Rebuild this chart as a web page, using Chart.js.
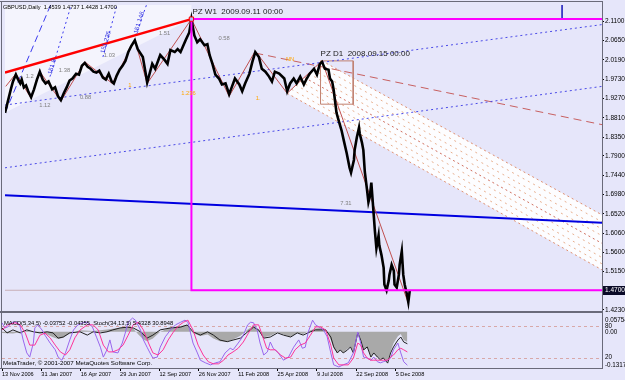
<!DOCTYPE html>
<html>
<head>
<meta charset="utf-8">
<script src="https://cdn.jsdelivr.net/npm/chart.js@4.4.0/dist/chart.umd.min.js"></script>
<style>
  html, body { margin: 0; padding: 0; background: #E6E6FA; }
  #wrap { position: relative; width: 625px; height: 380px; overflow: hidden; }
  canvas { position: absolute; left: 0; }
</style>
</head>
<body>
<div id="wrap">
  <canvas id="price" width="625" height="316" style="top:0"></canvas>
  <canvas id="osc" width="625" height="64" style="top:316px"></canvas>
</div>
<script>
var FONT = 'Liberation Sans, Arial, sans-serif';
var BG = '#E6E6FA';
var FRAME = '#6A6A7A';

// x is the bar number counted from 13 Nov 2006
var dateTickBars = [0, 54, 108, 162, 216, 270, 324, 378, 432, 486, 540];
var dateLabels = ['13 Nov 2006', '31 Jan 2007', '16 Apr 2007', '29 Jun 2007', '12 Sep 2007',
                  '26 Nov 2007', '11 Feb 2008', '25 Apr 2008', '9 Jul 2008', '22 Sep 2008', '5 Dec 2008'];
var priceTicks = [2.1100, 2.0650, 2.0190, 1.9730, 1.9270, 1.8810, 1.8350, 1.7900,
                  1.7440, 1.6980, 1.6520, 1.6060, 1.5600, 1.5150, 1.4230];
var lastPrice = 1.4700;

// GBPUSD daily closes (sampled)
var priceBars = [0,4,8,11,15,18,21,23,26,29,32,36,40,44,48,52,56,60,65,69,73,77,81,85,89,93,98,102,106,110,
  114,118,122,126,130,135,139,143,147,150,154,158,162,166,170,174,179,183,190,194,196,203,207,214,220,224,228,
  234,238,242,249,254,257,261,265,269,275,279,282,286,290,295,299,304,309,313,317,323,327,331,337,341,345,350,
  354,359,364,368,372,378,385,389,393,398,402,407,412,416,420,426,430,434,437,441,446,448,451,453,455,457,460,
  462,464,467,471,475,477,481,482,485,488,489,492,494,496,499,501,503,505,508,510,512,515,516,519,522,523,526,
  529,530,533,536,537,540,543,544,547,549,551,554,556,558];
var priceClose = [1.8927,1.9207,1.9487,1.9674,1.9838,1.9721,1.9628,1.9721,1.9534,1.9581,1.9441,1.9300,1.9487,
  1.9721,1.9908,1.9721,1.9628,1.9674,1.9487,1.9534,1.9324,1.9230,1.9394,1.9534,1.9698,1.9745,1.9861,1.9838,
  2.0048,2.0118,2.0025,1.9978,1.9908,1.9885,1.9931,1.9768,1.9721,1.9861,1.9674,1.9628,1.9815,1.9955,2.0048,
  2.0165,2.0376,2.0516,2.0656,2.0446,2.0259,1.9861,1.9651,2.0095,1.9978,2.0305,2.0189,2.0095,2.0422,2.0376,
  2.0446,2.0376,2.0656,2.0843,2.1161,2.0773,2.0609,2.0679,2.0539,2.0563,2.0305,2.0095,1.9838,1.9745,1.9604,
  1.9628,1.9371,1.9558,1.9745,1.9604,1.9441,1.9628,1.9861,2.0142,2.0376,2.0259,1.9978,1.9908,1.9791,1.9674,
  1.9908,1.9861,1.9745,1.9441,1.9628,1.9745,1.9628,1.9791,1.9604,1.9745,1.9861,1.9978,1.9838,2.0095,2.0142,
  1.9978,1.9955,1.9745,1.9674,1.9487,1.9207,1.8927,1.8740,1.8623,1.8506,1.8272,1.7969,1.7618,1.7501,1.7805,
  1.8039,1.8342,1.8576,1.8436,1.8225,1.8039,1.7524,1.7104,1.6800,1.6940,1.7267,1.6566,1.6099,1.5702,1.6005,
  1.5772,1.5538,1.5234,1.4837,1.4697,1.4930,1.5071,1.5304,1.5164,1.4837,1.4767,1.5071,1.5304,1.5631,1.5071,
  1.4837,1.4603,1.4416,1.4700];

// zigzag swing points
var zigBars = [1, 15, 36, 48, 77, 110, 148, 179, 196, 257, 309, 345, 389, 437, 556];
var zigPrices = [1.9558, 1.9861, 1.9277, 1.9908, 1.9207, 2.0142, 1.9628, 2.0656, 1.9628, 2.1161,
                 1.9324, 2.0399, 1.9394, 2.0165, 1.4393];

// drawn objects
var trendBars = [0, 257];          var trendPrices = [1.9885, 2.1161];
var pzW1Bars = [823, 257, 257, 823]; var pzW1Prices = [2.1161, 2.1161, 1.4700, 1.4700];
var longBlueBars = [0, 823];       var longBluePrices = [1.6963, 1.6309];
var dotLowBars = [0, 823];         var dotLowPrices = [1.7618, 1.9558];
var dotHighBars = [0, 823];        var dotHighPrices = [1.9113, 2.1030];
var medianBars = [345, 823];       var medianPrices = [2.0352, 1.8646];
var pzD1Bars = [435, 480, 480, 435, 435]; var pzD1Prices = [2.0165, 2.0165, 1.9134, 1.9134, 2.0165];
var bandTopBars = [437, 823];      var bandTopPrices = [2.0165, 1.6496];
var bandMidBars = [413, 823];      var bandMidPrices = [1.9768, 1.5818];
var bandLowBars = [389, 823];      var bandLowPrices = [1.9394, 1.5187];
var bandInnerStart = [431, 425, 419, 407, 401, 395];
var bandInnerStartPrices = [2.0060, 1.9950, 1.9860, 1.9680, 1.9590, 1.9490];
var bandInnerEndPrices = [1.6330, 1.6160, 1.6000, 1.5650, 1.5480, 1.5330];
var bandBars = [437, 823, 823, 389]; var bandPrices = [2.0165, 1.6496, 1.5187, 1.9394];
var zoneBars = [0, 257, 257, 0];   var zonePrices = [1.8927, 2.1161, 2.1600, 2.1600];
var fan1Bars = [0, 64];    var fan1Prices = [1.8927, 2.1544];
var fan2Bars = [62, 92];   var fan2Prices = [1.9791, 2.1544];
var fan3Bars = [135, 155]; var fan3Prices = [2.0259, 2.1544];
var fan4Bars = [180, 196]; var fan4Prices = [2.0773, 2.1544];
var sepBars = [768, 768];  var sepPrices = [2.1600, 2.1161];
var bidBars = [0, 823];    var bidPrices = [1.4700, 1.4700];

var noteText = ['1.2', '1.12', '1.38', '0.88', '1.03', '1.51', '0.58', '7.31'];
var noteBars = [34, 55, 82, 111, 144, 220, 302, 470];
var notePrices = [1.9791, 1.9113, 1.9931, 1.9300, 2.0305, 2.0820, 2.0703, 1.6776];
var fiboText = ['1', '1.236', '1.', 'NN'];
var fiboBars = [172, 253, 349, 393];
var fiboPrices = [1.9581, 1.9394, 1.9277, 2.0212];
var fanText = ['151.8', '151.236', '151.146'];
var fanTextBars = [65, 139, 185];
var fanTextPrices = [2.0025, 2.0609, 2.1077];

// oscillator window
var macdHistBars = [0,15,25,34,52,62,70,77,84,93,107,125,144,162,172,180,187,194,199,207,217,231,245,254,262,
  272,282,290,299,309,317,327,337,345,352,359,368,378,386,396,405,413,423,430,437,444,451,455,460,464,468,474,
  478,482,488,492,496,501,506,510,515,519,523,529,533,537,543,547,551,556];
var macdHist = [-0.004,-0.006,-0.002,0.004,-0.004,-0.010,-0.020,-0.026,-0.022,-0.005,0.006,0.003,0.008,0.015,
  0.018,0.012,-0.010,-0.028,-0.034,-0.024,0.000,0.016,0.021,0.026,-0.005,-0.015,-0.010,-0.024,-0.034,-0.036,
  -0.028,-0.014,0.008,0.022,0.008,-0.020,-0.014,-0.002,-0.010,-0.018,-0.003,-0.008,0.006,0.012,0.014,0.008,
  -0.030,-0.060,-0.078,-0.066,-0.076,-0.062,-0.054,-0.070,-0.006,-0.030,-0.066,-0.056,-0.090,-0.078,-0.092,
  -0.100,-0.095,-0.108,-0.072,-0.042,-0.016,-0.008,-0.030,-0.0375];
var macdSigBars = [0,7,15,25,34,43,52,62,70,77,84,93,107,117,125,135,144,152,162,172,180,190,199,207,217,231,
  245,254,262,272,282,290,299,309,317,327,337,345,352,359,368,378,386,396,405,413,423,430,437,444,451,455,460,
  464,468,474,478,482,488,492,496,501,506,510,515,519,523,529,533,537,543,547,551,556];
var macdSig = [0.014,-0.004,0.007,-0.004,0.007,0.000,-0.004,0.000,-0.004,-0.023,-0.019,-0.004,0.000,-0.012,
  0.000,-0.004,0.000,0.007,0.014,0.017,0.014,0.000,-0.023,-0.012,0.007,0.014,0.017,0.025,0.000,-0.012,0.000,
  -0.012,-0.030,-0.036,-0.030,-0.023,0.000,0.017,0.007,-0.023,-0.019,-0.004,-0.012,-0.019,-0.004,-0.012,0.000,
  0.007,0.007,0.007,-0.019,-0.055,-0.077,-0.066,-0.077,-0.066,-0.055,-0.077,-0.004,-0.030,-0.066,-0.055,-0.092,
  -0.077,-0.092,-0.102,-0.095,-0.114,-0.077,-0.055,-0.030,-0.019,-0.037,-0.04355];
var stochBars = [0,4,8,14,21,25,29,34,38,43,45,49,55,59,66,73,77,82,87,93,98,104,111,117,124,130,135,139,144,
  148,152,159,165,169,173,179,183,190,194,199,203,207,213,217,224,231,238,245,251,255,262,268,272,279,286,293,
  299,306,313,317,324,330,337,341,345,350,354,359,364,368,372,379,386,393,400,407,412,416,420,426,430,437,441,
  446,451,455,462,468,475,482,488,492,496,501,506,510,515,519,523,529,533,537,543,547,551,556];
var stochMain = [87,77,79,88,88,79,54,29,21,48,77,83,73,63,48,35,21,15,29,54,73,83,87,88,79,58,40,21,35,54,31,
  29,48,67,88,96,92,73,54,40,29,19,21,40,60,73,83,88,92,88,48,29,15,10,6,10,12,29,38,35,48,60,83,88,87,73,48,
  25,31,50,38,29,15,21,40,54,38,40,69,92,83,77,73,60,29,6,2,6,10,29,69,48,21,19,15,21,12,10,12,15,19,35,48,29,
  12,5.4328];
var stochSigBars = [0,8,18,25,32,38,45,52,59,66,73,80,87,93,100,107,117,125,132,139,146,152,159,166,173,180,187,
  194,201,207,214,221,228,235,242,249,255,262,269,276,283,290,297,304,310,317,324,331,338,345,352,357,363,368,
  375,382,389,396,402,409,416,423,430,437,444,451,455,462,468,475,482,488,492,496,501,506,510,515,519,523,529,
  533,537,543,547,551,556];
var stochSig = [73,83,87,83,67,44,44,63,67,58,44,31,25,35,58,73,83,83,73,44,31,31,35,44,63,83,88,73,48,29,25,35,
  54,69,81,88,92,73,44,25,12,8,8,15,25,31,38,50,67,83,83,63,38,35,35,25,19,21,35,44,48,63,79,79,73,44,19,6,6,6,
  19,48,44,29,19,15,15,15,15,15,15,21,25,35,38,35,30.8948];
var stochLevels = [80, 20];

function pts(bars, vals) {
  return bars.map(function(b, i) { return {x: b, y: vals[i]}; });
}

function lineSet(bars, vals, color, width, dash, extra) {
  var ds = {
    data: pts(bars, vals),
    borderColor: color,
    borderWidth: width,
    borderDash: dash || [],
    pointRadius: 0,
    fill: false,
    tension: 0
  };
  if (extra) { for (var k in extra) ds[k] = extra[k]; }
  return ds;
}

function fillPoly(ctx, x, y, bars, vals, color) {
  ctx.beginPath();
  bars.forEach(function(b, i) {
    var px = x.getPixelForValue(b), py = y.getPixelForValue(vals[i]);
    if (i) ctx.lineTo(px, py); else ctx.moveTo(px, py);
  });
  ctx.closePath();
  ctx.fillStyle = color;
  ctx.fill();
}

function putText(ctx, text, px, py, color, size, align, angle) {
  ctx.save();
  ctx.translate(px, py);
  if (angle) ctx.rotate(angle);
  ctx.font = size + 'px ' + FONT;
  ctx.fillStyle = color;
  ctx.textAlign = align || 'center';
  ctx.textBaseline = 'middle';
  ctx.fillText(text, 0, 0);
  ctx.restore();
}

var pricePanel = {
  id: 'pricePanel',
  beforeDraw: function(chart) {
    var ctx = chart.ctx;
    ctx.save();
    ctx.fillStyle = BG;
    ctx.fillRect(0, 0, chart.width, chart.height);
    ctx.restore();
  },
  beforeDatasetsDraw: function(chart) {
    var ctx = chart.ctx, a = chart.chartArea, x = chart.scales.x, y = chart.scales.y;
    ctx.save();
    ctx.beginPath();
    ctx.rect(a.left, a.top, a.right - a.left, a.bottom - a.top);
    ctx.clip();
    fillPoly(ctx, x, y, zoneBars, zonePrices, 'rgba(255,255,255,0.55)');
    fillPoly(ctx, x, y, bandBars, bandPrices, '#FDFDFF');
    ctx.restore();
  },
  afterDatasetsDraw: function(chart) {
    var ctx = chart.ctx, x = chart.scales.x, y = chart.scales.y;
    noteText.forEach(function(t, i) {
      putText(ctx, t, x.getPixelForValue(noteBars[i]), y.getPixelForValue(notePrices[i]), '#808080', 5.8);
    });
    fiboText.forEach(function(t, i) {
      putText(ctx, t, x.getPixelForValue(fiboBars[i]), y.getPixelForValue(fiboPrices[i]), '#FFA500', 5.8);
    });
    fanText.forEach(function(t, i) {
      putText(ctx, t, x.getPixelForValue(fanTextBars[i]), y.getPixelForValue(fanTextPrices[i]), '#3030E0', 6.3,
              'center', -73 * Math.PI / 180);
    });
    putText(ctx, 'PZ W1  2009.09.11 00:00', x.getPixelForValue(257) + 1, y.getPixelForValue(2.1161) - 7,
            '#202020', 8, 'left');
    putText(ctx, 'PZ D1  2008.09.15 00:00', x.getPixelForValue(435), y.getPixelForValue(2.0165) - 7,
            '#202020', 8, 'left');
    putText(ctx, 'GBPUSD,Daily  1.4539 1.4737 1.4428 1.4700', 3, 7, '#000000', 5.6, 'left');
  },
  afterDraw: function(chart) {
    var ctx = chart.ctx, a = chart.chartArea, y = chart.scales.y;
    ctx.save();
    ctx.fillStyle = FRAME;
    ctx.fillRect(0, 1, a.right + 1, 1);
    ctx.fillRect(1, 1, 1, chart.height);
    ctx.fillRect(a.right, 1, 1, chart.height);
    ctx.fillRect(0, a.bottom, a.right + 1, 2);
    var py = Math.round(y.getPixelForValue(lastPrice));
    ctx.fillStyle = '#0A0A28';
    ctx.fillRect(a.right + 1, py - 4, chart.width - a.right - 1, 9);
    ctx.restore();
    putText(ctx, lastPrice.toFixed(4), a.right + 3, py + 0.5, '#FFFFFF', 6.5, 'left');
  }
};

var oscPanel = {
  id: 'oscPanel',
  beforeDraw: function(chart) {
    var ctx = chart.ctx;
    ctx.save();
    ctx.fillStyle = BG;
    ctx.fillRect(0, 0, chart.width, chart.height);
    ctx.restore();
  },
  beforeDatasetsDraw: function(chart) {
    var ctx = chart.ctx, a = chart.chartArea, s = chart.scales.yS;
    ctx.save();
    ctx.strokeStyle = '#D8A8A8';
    ctx.lineWidth = 1;
    ctx.setLineDash([3, 3]);
    stochLevels.forEach(function(v) {
      var py = Math.round(s.getPixelForValue(v)) + 0.5;
      ctx.beginPath();
      ctx.moveTo(a.left, py);
      ctx.lineTo(a.right, py);
      ctx.stroke();
    });
    ctx.restore();
  },
  afterDraw: function(chart) {
    var ctx = chart.ctx, a = chart.chartArea, m = chart.scales.yM, s = chart.scales.yS;
    ctx.save();
    ctx.fillStyle = FRAME;
    ctx.fillRect(1, 0, 1, a.bottom);
    ctx.fillRect(a.right, 0, 1, a.bottom + 1);
    ctx.fillRect(0, a.bottom, a.right + 1, 1);
    ctx.restore();
    putText(ctx, 'MACD(5,34,5) -0.03752 -0.04355  Stoch(34,13,5) 5.4328 30.8948', 4, 7, '#000000', 5.8, 'left');
    putText(ctx, 'MetaTrader, \u00A9 2001-2007 MetaQuotes Software Corp.', 3, a.bottom - 5, '#000000', 6.2, 'left');
    var lx = a.right + 3;
    putText(ctx, m.max.toFixed(5), lx, m.getPixelForValue(m.max) + 4, '#000000', 6.3, 'left');
    putText(ctx, '0.00', lx, m.getPixelForValue(0), '#000000', 6.3, 'left');
    putText(ctx, m.min.toFixed(5), lx, m.getPixelForValue(m.min) - 3, '#000000', 6.3, 'left');
    stochLevels.forEach(function(v) {
      putText(ctx, String(v), lx, s.getPixelForValue(v), '#000000', 6.3, 'left');
    });
  }
};

var priceSets = [
  lineSet([257], [2.1161], '#FF0000', 1, null, {showLine: false, pointStyle: 'rect', pointRadius: 3,
    pointBackgroundColor: '#A8B8FF', pointBorderColor: '#FF0000'}),
  lineSet(pzW1Bars, pzW1Prices, '#FF00FF', 2),
  lineSet(priceBars, priceClose, '#000000', 2.6),
  lineSet(zigBars, zigPrices, '#C05050', 1),
  lineSet(trendBars, trendPrices, '#FF0000', 2.5),
  lineSet(longBlueBars, longBluePrices, '#0000E0', 2),
  lineSet(dotLowBars, dotLowPrices, '#4A4AE8', 1, [2, 3]),
  lineSet(dotHighBars, dotHighPrices, '#4A4AE8', 1, [2, 3]),
  lineSet(medianBars, medianPrices, '#C86060', 1, [8, 5]),
  lineSet(pzD1Bars, pzD1Prices, '#C08070', 1),
  lineSet(bandTopBars, bandTopPrices, '#E09070', 1, [2, 3]),
  lineSet(bandMidBars, bandMidPrices, '#D07060', 1, [2, 3]),
  lineSet(bandLowBars, bandLowPrices, '#E09070', 1, [2, 3])
];
bandInnerStart.forEach(function(b, i) {
  priceSets.push(lineSet([b, 823], [bandInnerStartPrices[i], bandInnerEndPrices[i]], '#E8B090', 1, [2, 4]));
});
priceSets.push(
  lineSet(fan1Bars, fan1Prices, '#3A3AF0', 1, [7, 4]),
  lineSet(fan2Bars, fan2Prices, '#3A3AF0', 1, [2, 3]),
  lineSet(fan3Bars, fan3Prices, '#3A3AF0', 1, [2, 3]),
  lineSet(fan4Bars, fan4Prices, '#3A3AF0', 1, [2, 3]),
  lineSet(sepBars, sepPrices, '#3030C0', 1),
  lineSet(bidBars, bidPrices, '#C8B0B8', 1)
);

new Chart(document.getElementById('price'), {
  type: 'line',
  data: { datasets: priceSets },
  options: {
    responsive: false,
    animation: false,
    events: [],
    layout: { padding: { left: 2, top: 2, right: 0, bottom: 2 } },
    plugins: { legend: { display: false }, tooltip: { enabled: false } },
    scales: {
      x: { type: 'linear', display: false, min: 0, max: 823 },
      y: {
        position: 'right',
        min: 1.4206,
        max: 2.1497,
        afterBuildTicks: function(s) { s.ticks = priceTicks.map(function(v) { return {value: v}; }); },
        afterFit: function(s) { s.width = 23; },
        border: { display: false },
        grid: { drawOnChartArea: false, tickLength: 2, color: '#000000' },
        ticks: {
          autoSkip: false,
          padding: 1,
          color: '#000000',
          font: { family: FONT, size: 6.5 },
          callback: function(v) { return Number(v).toFixed(4); }
        }
      }
    }
  },
  plugins: [pricePanel]
});

new Chart(document.getElementById('osc'), {
  type: 'line',
  data: {
    datasets: [
      lineSet(stochSigBars, stochSig, '#FF3399', 1, null, {yAxisID: 'yS'}),
      lineSet(stochBars, stochMain, '#9966EE', 1, null, {yAxisID: 'yS'}),
      lineSet(macdSigBars, macdSig, '#202020', 1, null, {yAxisID: 'yM'}),
      lineSet(macdHistBars, macdHist, 'rgba(0,0,0,0)', 0, null, {yAxisID: 'yM', fill: 'origin',
        backgroundColor: '#A9A9A9'})
    ]
  },
  options: {
    responsive: false,
    animation: false,
    events: [],
    layout: { padding: { left: 2, top: 0, right: 23, bottom: 0 } },
    plugins: { legend: { display: false }, tooltip: { enabled: false } },
    scales: {
      x: {
        type: 'linear',
        min: 0,
        max: 823,
        afterBuildTicks: function(s) { s.ticks = dateTickBars.map(function(v) { return {value: v}; }); },
        afterFit: function(s) { s.height = 12; },
        border: { display: false },
        grid: { drawOnChartArea: false, tickLength: 3, color: '#000000' },
        ticks: {
          autoSkip: false,
          maxRotation: 0,
          align: 'start',
          padding: 0,
          color: '#000000',
          font: { family: FONT, size: 5.6 },
          callback: function(v, i) { return dateLabels[i]; }
        }
      },
      yM: { display: false, min: -0.13176, max: 0.05754 },
      yS: { display: false, min: 0, max: 100 }
    }
  },
  plugins: [oscPanel]
});
</script>
</body>
</html>
